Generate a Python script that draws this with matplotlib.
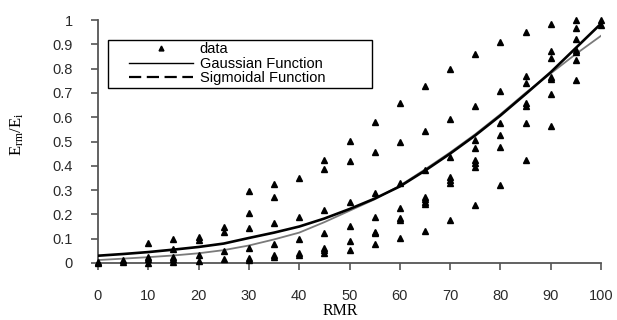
import numpy as np
import matplotlib
matplotlib.use('Agg')
import matplotlib.pyplot as plt
from matplotlib.patches import Rectangle

# measured points (RMR, Erm/Ei)
rmr_pts = [0, 0,
           5, 5,
           10, 10, 10, 10,
           15, 15, 15, 15, 15,
           20, 20, 20, 20,
           25, 25, 25, 25,
           30, 30, 30, 30, 30, 30,
           35, 35, 35, 35, 35, 35,
           40, 40, 40, 40, 40,
           45, 45, 45, 45, 45, 45, 45,
           50, 50, 50, 50, 50, 50,
           55, 55, 55, 55, 55, 55, 55,
           60, 60, 60, 60, 60, 60, 60,
           65, 65, 65, 65, 65, 65, 65, 65,
           70, 70, 70, 70, 70, 70, 70,
           75, 75, 75, 75, 75, 75, 75, 75,
           80, 80, 80, 80, 80, 80,
           85, 85, 85, 85, 85, 85, 85,
           90, 90, 90, 90, 90, 90, 90,
           95, 95, 95, 95, 95, 95, 95,
           100, 100]
ratio_pts = [0.001, 0.006,
             0.012, 0.003,
             0.084, 0.023, 0.015, 0.001,
             0.097, 0.056, 0.023, 0.015, 0.003,
             0.108, 0.095, 0.033, 0.009,
             0.147, 0.126, 0.049, 0.015,
             0.298, 0.205, 0.143, 0.060, 0.019, 0.012,
             0.324, 0.273, 0.163, 0.078, 0.033, 0.026,
             0.348, 0.191, 0.097, 0.042, 0.033,
             0.424, 0.385, 0.218, 0.122, 0.062, 0.052, 0.042,
             0.502, 0.420, 0.250, 0.152, 0.089, 0.055,
             0.579, 0.455, 0.287, 0.188, 0.129, 0.122, 0.078,
             0.657, 0.499, 0.328, 0.228, 0.184, 0.177, 0.101,
             0.730, 0.545, 0.383, 0.273, 0.263, 0.252, 0.241, 0.133,
             0.798, 0.593, 0.437, 0.355, 0.342, 0.328, 0.177,
             0.859, 0.647, 0.506, 0.472, 0.424, 0.410, 0.396, 0.239,
             0.908, 0.708, 0.575, 0.527, 0.479, 0.321,
             0.949, 0.771, 0.739, 0.657, 0.646, 0.575, 0.424,
             0.982, 0.872, 0.845, 0.767, 0.757, 0.694, 0.565,
             1.000, 0.968, 0.920, 0.877, 0.870, 0.835, 0.753,
             1.000, 0.979]

# fitted curves
rmr_fit = [0, 5, 10, 15, 20, 25, 30, 35, 40, 45, 50,
           55, 60, 65, 70, 75, 80, 85, 90, 95, 100]
gauss_fit = [0.012, 0.018, 0.024, 0.031, 0.040, 0.053, 0.072, 0.097, 0.125, 0.168, 0.215,
             0.262, 0.318, 0.385, 0.455, 0.530, 0.612, 0.700, 0.780, 0.860, 0.935]
sigm_fit = [0.030, 0.037, 0.045, 0.055, 0.066, 0.080, 0.103, 0.125, 0.150, 0.183, 0.222,
            0.265, 0.315, 0.380, 0.450, 0.525, 0.607, 0.695, 0.785, 0.885, 0.985]

W, H = 617, 320
fig = plt.figure(figsize=(W / 100, H / 100), dpi=100)
ax = fig.add_axes([98 / W, 1 - 263 / H, 503 / W, 243 / H])

sans = ['Liberation Sans', 'DejaVu Sans']
serif = ['Liberation Serif', 'DejaVu Serif']

ax.plot(rmr_pts, ratio_pts, ls='none', marker='^', ms=4.6, color='black',
        clip_on=False, zorder=4)
ax.plot(rmr_fit, gauss_fit, color='#7a7a7a', lw=1.3, zorder=3)
ax.plot(rmr_fit, sigm_fit, color='black', lw=1.9, zorder=3)

ax.set_xlim(0, 100)
ax.set_ylim(0, 1)
ax.set_xticks(np.arange(0, 101, 10))
ax.set_yticks(np.arange(0, 1.01, 0.1))
ax.set_yticklabels(['0', '0.1', '0.2', '0.3', '0.4', '0.5', '0.6', '0.7', '0.8', '0.9', '1'])

for s in ['top', 'right']:
    ax.spines[s].set_visible(False)
for s in ['left', 'bottom']:
    ax.spines[s].set_color('#555555')
    ax.spines[s].set_linewidth(1.3)

ax.tick_params(axis='both', direction='out', length=5, width=1.2, color='#555555',
               labelsize=10.5, labelcolor='#2a2a2a')
ax.tick_params(axis='x', pad=14)
ax.tick_params(axis='y', pad=13)
for lab in ax.get_xticklabels() + ax.get_yticklabels():
    lab.set_family(sans)

fig.text(17 / W, 1 - 134 / H, r'$\mathregular{E_{rm}/E_{i}}$', rotation=90,
         ha='center', va='center', fontsize=12, family=serif)
fig.text(340 / W, 1 - 303 / H, 'RMR', ha='center', va='top', fontsize=11.5, family=serif)

# legend: sigmoid shown dashed there, as in the original
h_gauss = plt.Line2D([], [], color='black', lw=1.0)
h_sigm = plt.Line2D([], [], color='black', lw=1.6, ls=(0, (5.5, 2.5)))
h_data = plt.Line2D([], [], ls='none', marker='^', ms=3.5, color='black')
fig.legend([h_data, h_gauss, h_sigm], ['data', 'Gaussian Function', 'Sigmoidal Function'],
           loc='upper left', bbox_to_anchor=(129 / W, 1 - 42 / H),
           frameon=False, prop={'family': sans, 'size': 10.5},
           handlelength=4.4, handletextpad=0.45, labelspacing=0.05,
           borderpad=0.0, borderaxespad=0.0)

fig.patches.append(Rectangle((108 / W, 1 - 88 / H), (372 - 108) / W, 48 / H,
                             transform=fig.transFigure, fill=False, ec='black', lw=1.0))

fig.savefig('out.png', dpi=100)
